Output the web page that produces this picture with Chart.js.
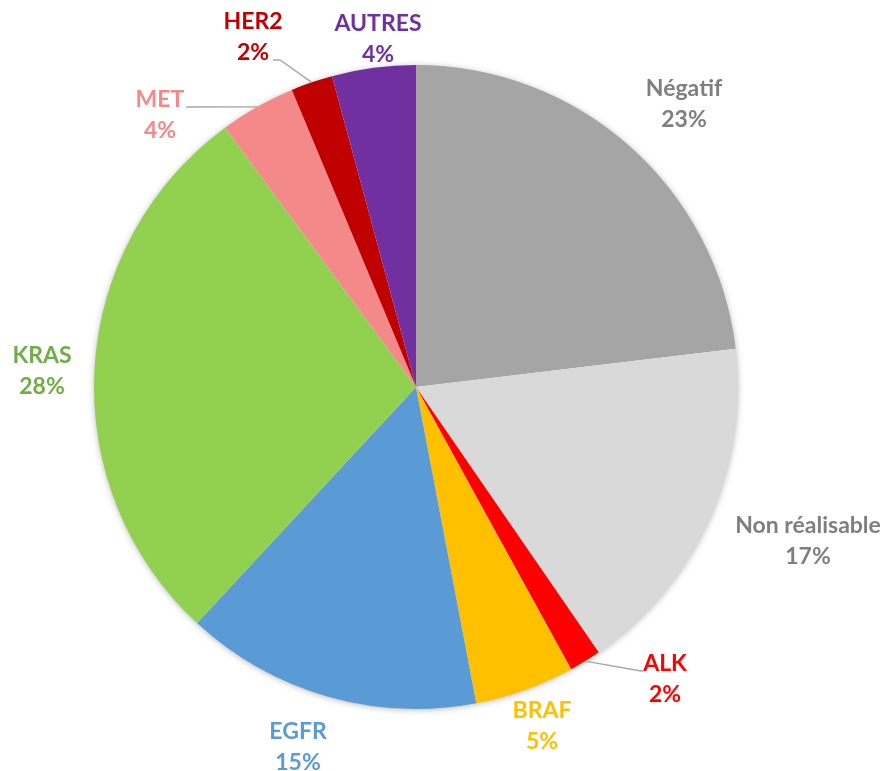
<!DOCTYPE html>
<html>
<head>
<meta charset="utf-8">
<script src="https://cdn.jsdelivr.net/npm/chart.js@4.4.1/dist/chart.umd.min.js"></script>
<style>
  body { margin: 0; background: #fff; }
  canvas { display: block; }
</style>
</head>
<body>
<canvas id="pieChart" width="885" height="771"></canvas>
<script>
// données (en %)
const categories = ['Négatif', 'Non réalisable', 'ALK', 'BRAF', 'EGFR', 'KRAS', 'MET', 'HER2', 'AUTRES'];
const values = [23.1, 17.3, 1.6, 5.0, 14.9, 28.0, 3.8, 2.1, 4.2];
const percentLabels = ['23%', '17%', '2%', '5%', '15%', '28%', '4%', '2%', '4%'];

const sliceColors = ['#A5A5A5', '#D9D9D9', '#FF0000', '#FFC000', '#5B9BD5', '#92D050', '#F4898A', '#C00000', '#7030A0'];
const textColors = ['#7F7F7F', '#7F7F7F', '#FF0000', '#FFC000', '#5B9BD5', '#70AD47', '#F4898A', '#C00000', '#7030A0'];

// position des étiquettes : centre x / ligne de base, relatif au centre du camembert
const labelOffsets = [
    [268, -291], [392, 146], [249, 284], [126, 331], [-118, 352],
    [-374, -24], [-256, -280], [-163, -358], [-38, -356]
];
// lignes de rappel : [dx départ, dy départ, longueur horizontale] depuis l'étiquette
const leaders = { 2: [-22, 0, -2], 6: [26, 0, 0], 7: [20, 31, 7] };

const pieShadow = {
    id: 'pieShadow',
    beforeDatasetsDraw(chart) {
        const arc = chart.getDatasetMeta(0).data[0];
        if (!arc) return;
        const ctx = chart.ctx;
        ctx.save();
        ctx.shadowColor = 'rgba(0,0,0,0.35)';
        ctx.shadowBlur = 7;
        ctx.shadowOffsetY = 1;
        ctx.fillStyle = '#fff';
        ctx.beginPath();
        ctx.arc(arc.x, arc.y, arc.outerRadius - 1, 0, Math.PI * 2);
        ctx.fill();
        ctx.restore();
    }
};

const outsideLabels = {
    id: 'outsideLabels',
    afterDatasetsDraw(chart) {
        const ctx = chart.ctx;
        const arcs = chart.getDatasetMeta(0).data;
        ctx.save();
        arcs.forEach((arc, i) => {
            const lx = arc.x + labelOffsets[i][0];
            const ly = arc.y + labelOffsets[i][1];
            if (leaders[i]) {
                const mid = (arc.startAngle + arc.endAngle) / 2;
                const ex = arc.x + Math.cos(mid) * arc.outerRadius;
                const ey = arc.y + Math.sin(mid) * arc.outerRadius;
                const sx = lx + leaders[i][0];
                const sy = ly + leaders[i][1];
                ctx.strokeStyle = '#A6A6A6';
                ctx.lineWidth = 1.3;
                ctx.beginPath();
                ctx.moveTo(sx, sy);
                ctx.lineTo(sx + leaders[i][2], sy);
                ctx.lineTo(ex, ey);
                ctx.stroke();
            }
            ctx.fillStyle = textColors[i];
            ctx.font = 'bold 23px Lato';
            ctx.textAlign = 'center';
            ctx.textBaseline = 'alphabetic';
            ctx.fillText(categories[i], lx, ly);
            ctx.fillText(percentLabels[i], lx, ly + 31);
        });
        ctx.restore();
    }
};

new Chart(document.getElementById('pieChart'), {
    type: 'pie',
    data: {
        labels: categories,
        datasets: [{
            data: values,
            backgroundColor: sliceColors,
            borderWidth: 0
        }]
    },
    options: {
        responsive: false,
        animation: false,
        devicePixelRatio: 1,
        layout: { padding: { top: 65, bottom: 62, left: 94, right: 147 } },
        plugins: {
            legend: { display: false },
            tooltip: { enabled: false }
        }
    },
    plugins: [pieShadow, outsideLabels]
});
</script>
</body>
</html>
